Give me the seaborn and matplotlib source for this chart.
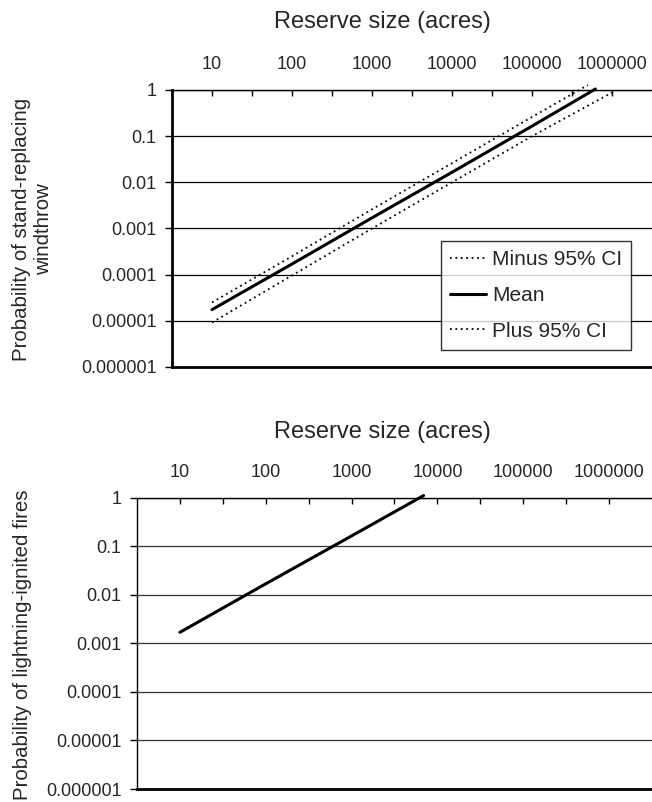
import numpy as np
import pandas as pd
import seaborn as sns
import matplotlib.pyplot as plt
from matplotlib.ticker import FixedLocator, FixedFormatter, NullFormatter

# --- data ---
x_tick_values = [10, 100, 1000, 10000, 100000, 1000000]
x_tick_labels = ["10", "100", "1000", "10000", "100000", "1000000"]
y_tick_values = [1e-6, 1e-5, 1e-4, 1e-3, 1e-2, 1e-1, 1]
y_tick_labels = ["0.000001", "0.00001", "0.0001", "0.001", "0.01", "0.1", "1"]

# windthrow (top panel)
wind_size_minus = [10, 100, 1000, 10000, 100000, 500000]
wind_minus_ci = [2.5e-5, 2.5e-4, 2.6e-3, 2.6e-2, 0.26, 1.28]
wind_size_mean = [10, 100, 1000, 10000, 100000, 620000]
wind_mean = [1.75e-5, 1.7e-4, 1.7e-3, 1.65e-2, 0.165, 1.05]
wind_size_plus = [10, 100, 1000, 10000, 100000, 1000000]
wind_plus_ci = [9.2e-6, 9.6e-5, 1.0e-3, 1.0e-2, 0.1, 0.88]

# lightning fires (bottom panel)
fire_size = [10, 100, 1000, 6900]
fire_prob = [1.7e-3, 1.7e-2, 0.165, 1.12]

sns.set_style("white")
plt.rcParams['font.family'] = ['Liberation Sans', 'DejaVu Sans']

DOT = (0, (1, 2))


def style_axis(ax, left_lw, grid_color):
    ax.set_xscale('log')
    ax.set_yscale('log')
    ax.set_xlim(10 ** 0.5, 10 ** 6.5)
    ax.set_ylim(1e-6, 1)

    ax.xaxis.tick_top()
    ax.xaxis.set_major_locator(FixedLocator(x_tick_values))
    ax.xaxis.set_major_formatter(FixedFormatter(x_tick_labels))
    ax.xaxis.set_minor_locator(FixedLocator([10 ** (k + 0.5) for k in range(1, 6)]))
    ax.xaxis.set_minor_formatter(NullFormatter())
    ax.tick_params(axis='x', which='both', direction='in', length=4, width=1,
                   color='black', top=True, bottom=False,
                   labeltop=True, labelbottom=False, labelsize=13, pad=12)

    ax.yaxis.set_major_locator(FixedLocator(y_tick_values))
    ax.yaxis.set_major_formatter(FixedFormatter(y_tick_labels))
    ax.yaxis.set_minor_locator(FixedLocator([]))
    ax.tick_params(axis='y', which='major', direction='out', length=5, width=1,
                   color='black', left=True, labelsize=13, pad=6)

    ax.grid(False)
    ax.yaxis.grid(True, color=grid_color, lw=0.9)
    ax.set_xlabel('')
    ax.set_ylabel('')

    ax.spines['right'].set_visible(False)
    ax.spines['top'].set_color('black')
    ax.spines['top'].set_linewidth(1)
    ax.spines['left'].set_color('black')
    ax.spines['left'].set_linewidth(left_lw)
    ax.spines['bottom'].set_color('black')
    ax.spines['bottom'].set_linewidth(2)


fig = plt.figure(figsize=(6.52, 8.02), dpi=100)
ax1 = fig.add_axes([0.2638, 0.5424, 0.7362, 0.3454])
ax2 = fig.add_axes([0.2101, 0.0162, 0.7899, 0.3629])

for ax in (ax1, ax2):
    ax.set_xscale('log')
    ax.set_yscale('log')

# top panel
sns.lineplot(x=wind_size_minus, y=wind_minus_ci, ax=ax1, color='black', lw=1.3,
             linestyle=DOT, label='Minus 95% CI', clip_on=False)
sns.lineplot(x=wind_size_mean, y=wind_mean, ax=ax1, color='black', lw=2.2,
             label='Mean', clip_on=False)
sns.lineplot(x=wind_size_plus, y=wind_plus_ci, ax=ax1, color='black', lw=1.3,
             linestyle=DOT, label='Plus 95% CI', clip_on=False)
style_axis(ax1, left_lw=2, grid_color='black')

leg = ax1.legend(loc='upper left', bbox_to_anchor=(0.56, 0.455), borderaxespad=0,
                 fontsize=15, frameon=True, fancybox=False, edgecolor='black',
                 handlelength=1.7, handletextpad=0.3, labelspacing=0.8,
                 borderpad=0.45)
leg.get_frame().set_linewidth(1)

# bottom panel
sns.lineplot(x=fire_size, y=fire_prob, ax=ax2, color='black', lw=2.2,
             legend=False, clip_on=False)
style_axis(ax2, left_lw=1, grid_color='#333333')

# axis titles
fig.text(0.587, 0.9726, 'Reserve size (acres)', ha='center', va='center', fontsize=17)
fig.text(0.587, 0.4613, 'Reserve size (acres)', ha='center', va='center', fontsize=17)
fig.text(0.050, 0.7145, 'Probability of stand-replacing\nwindthrow', rotation=90,
         ha='center', va='center', multialignment='center', fontsize=14.7)
fig.text(0.035, 0.196, 'Probability of lightning-ignited fires', rotation=90,
         ha='center', va='center', fontsize=14.7)

fig.savefig('out.png', dpi=100)
